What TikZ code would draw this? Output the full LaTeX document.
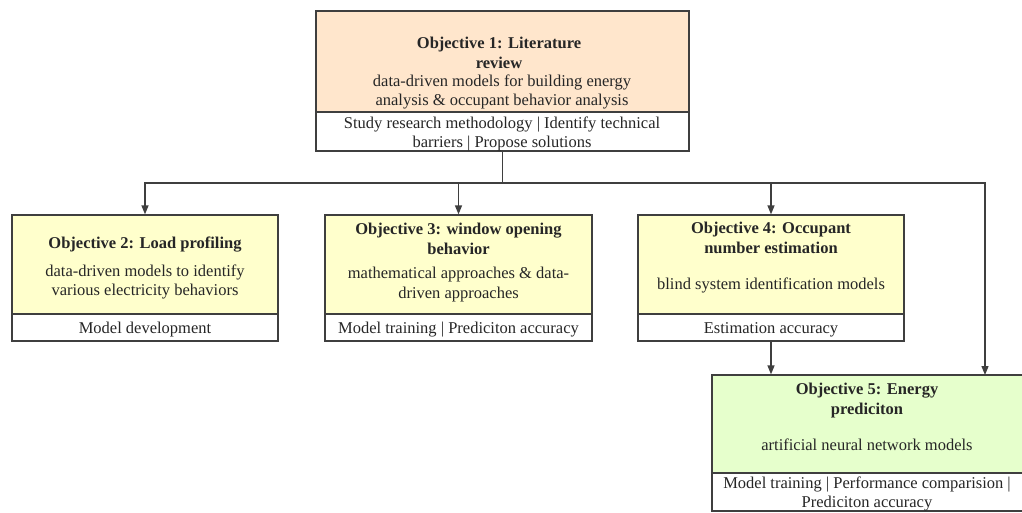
\documentclass[tikz,border=0pt]{standalone}
\usepackage{fontspec}
\setmainfont{Liberation Serif}
\usetikzlibrary{arrows.meta}
\definecolor{peach}{HTML}{FFE6CC}
\definecolor{lemon}{HTML}{FFFFCC}
\definecolor{mint}{HTML}{E6FFCC}
\definecolor{edge}{HTML}{3F3F3F}
\definecolor{ink}{HTML}{262626}
\tikzset{
  upper/.style={draw=edge, line width=1.3pt, rectangle, inner sep=0pt},
  lower/.style={draw=edge, line width=1.3pt, rectangle, inner sep=0pt, fill=white},
  title/.style={font=\fontsize{16.5}{20}\selectfont\bfseries, text=ink, align=center, inner sep=0pt},
  body/.style={font=\fontsize{16.5}{19.5}\selectfont, text=ink, align=center, inner sep=0pt},
  link/.style={draw=edge, line width=1.3pt},
  arr/.style={link, -{Triangle[length=9pt,width=7pt]}}
}
\begin{document}
\begin{tikzpicture}[x=1pt,y=-1pt]
\useasboundingbox (0,0) rectangle (1022,512);
\fill[white] (0,0) rectangle (1022,512);

% Objective 1
\node[upper, fill=peach, minimum width=373pt, minimum height=101pt] (o1) at (502.5,61.5) {};
\node[lower, minimum width=373pt, minimum height=39pt] (b1) at (502.5,131.5) {};
\node[title] (o1t) at (499,53) {Objective 1: Literature\\review};
\node[body] (o1d) at (502,92) {data-driven models for building energy\\analysis \& occupant behavior analysis};
\node[body] (o1r) at (502,134) {Study research methodology | Identify technical\\barriers | Propose solutions};

% Objective 2
\node[upper, fill=lemon, minimum width=266pt, minimum height=99pt] (o2) at (145,264.5) {};
\node[lower, minimum width=266pt, minimum height=27pt] (b2) at (145,327.5) {};
\node[title] (o2t) at (145,244.5) {Objective 2: Load profiling};
\node[body] (o2d) at (145,282) {data-driven models to identify\\various electricity behaviors};
\node[body] (o2r) at (145,330) {Model development};

% Objective 3
\node[upper, fill=lemon, minimum width=267pt, minimum height=99pt] (o3) at (458.5,264.5) {};
\node[lower, minimum width=267pt, minimum height=27pt] (b3) at (458.5,327.5) {};
\node[title] (o3t) at (458.5,238.5) {Objective 3: window opening\\behavior};
\node[body] (o3d) at (458.5,284.5) {mathematical approaches \& data-\\driven approaches};
\node[body] (o3r) at (458.5,330) {Model training | Prediciton accuracy};

% Objective 4
\node[upper, fill=lemon, minimum width=266pt, minimum height=99pt] (o4) at (771,264.5) {};
\node[lower, minimum width=266pt, minimum height=27pt] (b4) at (771,327.5) {};
\node[title] (o4t) at (771,238) {Objective 4: Occupant\\number estimation};
\node[body] (o4d) at (771,285) {blind system identification models};
\node[body] (o4r) at (771,330) {Estimation accuracy};

% Objective 5 (runs past the right edge)
\node[upper, fill=mint, minimum width=313pt, minimum height=98pt] (o5) at (868.5,424) {};
\node[lower, minimum width=313pt, minimum height=38pt] (b5) at (868.5,492) {};
\node[title] (o5t) at (867,400.5) {Objective 5: Energy\\prediciton};
\node[body] (o5d) at (867,445) {artificial neural network models};
\node[body] (o5r) at (867,494) {Model training | Performance comparision |\\Prediciton accuracy};

% Connectors
\coordinate (hub) at (502.5,183);
\coordinate (o5in) at (985,375);
\draw[link] (b1.south) -- (hub);
\draw[arr] (hub) -| (o2.north);
\draw[arr] (hub) -| (o3.north);
\draw[arr] (hub) -| (o4.north);
\draw[arr] (hub) -| (o5in);
\draw[arr] (b4.south) -- (b4.south |- o5.north);
\end{tikzpicture}
\end{document}
